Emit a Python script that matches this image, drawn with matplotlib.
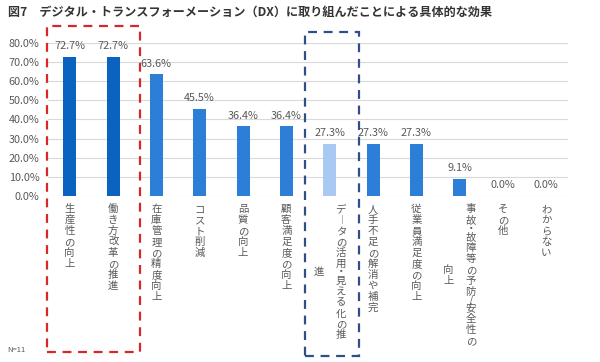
import matplotlib.pyplot as plt
from matplotlib.patches import Rectangle
from matplotlib.transforms import blended_transform_factory

plt.rcParams['font.family'] = ['Noto Sans CJK JP', 'DejaVu Sans']

title = '図7　デジタル・トランスフォーメーション（DX）に取り組んだことによる具体的な効果'
categories = ['生産性の向上', '働き方改革の推進', '在庫管理の精度向上', 'コスト削減',
              '品質の向上', '顧客満足度の向上', 'データの活用・見える化の推進',
              '人手不足の解消や補完', '従業員満足度の向上',
              '事故・故障等の予防/安全性の向上', 'その他', 'わからない']
values = [72.7, 72.7, 63.6, 45.5, 36.4, 36.4, 27.3, 27.3, 27.3, 9.1, 0.0, 0.0]
# labels that wrap into two vertical columns: (right column, left column)
wrapped = {6: ('データの活用・見える化の推', '進'),
           9: ('事故・故障等の予防/安全性の', '向上')}
red_group = [0, 1]
blue_group = [6]
note = 'N=11'

dark = '#0B63C0'
mid = '#2D7ED7'
light = '#A9C9F2'
gray = '#595959'
colors = [dark if i in red_group else (light if i in blue_group else mid)
          for i in range(len(values))]

fig = plt.figure(figsize=(6, 3.62), dpi=100)
ax = fig.add_axes([0.08, 0.4586, 0.8667, 0.4227])

x = list(range(len(values)))
ax.bar(x, [v / 100 for v in values], width=0.3, color=colors, zorder=2)
ax.set_xlim(-0.5, len(values) - 0.5)
ax.set_ylim(0, 0.8)
ax.set_yticks([i / 10 for i in range(9)])
ax.set_yticklabels([f'{i * 10:.1f}%' for i in range(9)], color=gray, fontsize=7.8)
ax.set_xticks([])
ax.tick_params(axis='y', length=0, pad=6)
ax.grid(axis='y', color='#D9D9D9', linewidth=0.8, zorder=0)
for s in ax.spines.values():
    s.set_visible(False)

for i, v in enumerate(values):
    ax.annotate(f'{v:.1f}%', (i, v / 100), xytext=(0, 4), textcoords='offset points',
                ha='center', va='bottom', fontsize=7.8, color=gray)

# vertical (tategaki) category labels, one glyph per row
FS = 7.5
PITCH = 7.85   # points between rows
TOP = 5.0      # points below the axis


def rows(s):
    return [('︱' if c == 'ー' else c, 0.55 if c in '・/' else 1.0) for c in s]


def column(i, s, dx, start):
    y = start
    for ch, h in rows(s):
        centre = y + h * PITCH / 2
        ax.annotate(ch, (i, 0), xycoords=('data', 'axes fraction'),
                    xytext=(dx, -centre - 0.38 * FS), textcoords='offset points',
                    ha='center', va='baseline', fontsize=FS, color=gray)
        y += h * PITCH


def length(s):
    return sum(h for _, h in rows(s)) * PITCH


for i, lab in enumerate(categories):
    if i in wrapped:
        right, left = wrapped[i]
        column(i, right, 8, TOP)
        mid_y = TOP + length(right) / 2
        column(i, left, -8, mid_y - length(left) / 2)
    else:
        column(i, lab, 0, TOP)

# dashed highlight boxes
tr = blended_transform_factory(ax.transData, fig.transFigure)
r0, r1 = min(red_group) - 0.52, max(red_group) + 0.62
fig.patches.append(Rectangle((r0, 0.028), r1 - r0, 0.9, transform=tr, fill=False,
                             edgecolor='#D9262B', linewidth=1.6, linestyle=(0, (4, 3))))
b0, b1 = min(blue_group) - 0.57, max(blue_group) + 0.68
fig.patches.append(Rectangle((b0, 0.017), b1 - b0, 0.895, transform=tr, fill=False,
                             edgecolor='#2F4E8C', linewidth=1.6, linestyle=(0, (4, 3))))

fig.text(0.013, 0.965, title, fontsize=8.7, fontweight='bold', color='#333333',
         va='center', ha='left')
fig.text(0.012, 0.033, note, fontsize=5.5, color=gray, va='center', ha='left')

fig.savefig('out.png', dpi=100)
